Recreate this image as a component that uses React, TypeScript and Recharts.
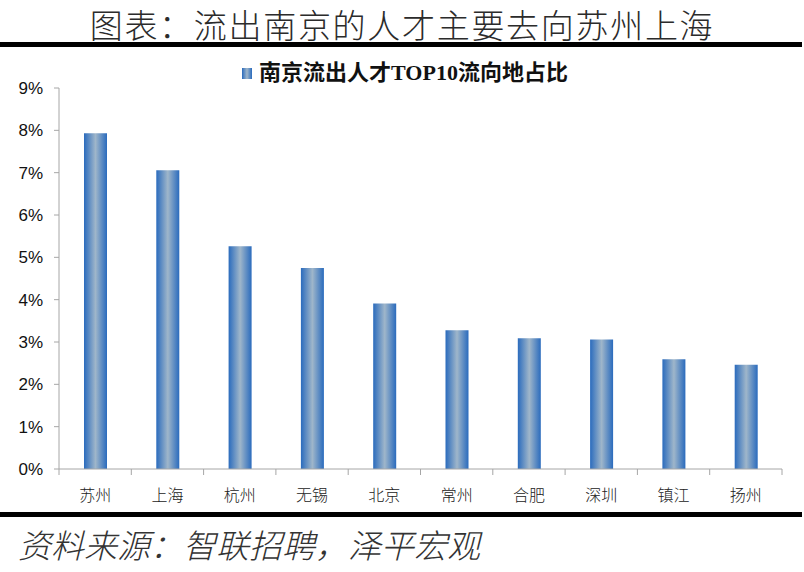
import React from "react";
import { BarChart, Bar, XAxis, YAxis } from "recharts";

const cities = ["苏州", "上海", "杭州", "无锡", "北京", "常州", "合肥", "深圳", "镇江", "扬州"];
const shares = [7.93, 7.06, 5.26, 4.75, 3.91, 3.28, 3.09, 3.06, 2.59, 2.46];
const yTicks = [0, 1, 2, 3, 4, 5, 6, 7, 8, 9];

const chartTitle = "图表：流出南京的人才主要去向苏州上海";
const legendLabel = "南京流出人才TOP10流向地占比";
const sourceNote = "资料来源：智联招聘，泽平宏观";

const data = cities.map((city, i) => ({ city, share: shares[i] }));

const cjk = "'Noto Sans CJK SC', sans-serif";
const axisGrey = "#a6a6a6";

// category label plus Excel-style tick marks on the band edges
const CityTick = (props: any) => {
  const { x, y, payload, index, width, visibleTicksCount } = props;
  const band = width / visibleTicksCount;
  const left = x - band / 2;
  return (
    <g>
      <line x1={left} x2={left} y1={y} y2={y + 6} stroke={axisGrey} />
      {index === visibleTicksCount - 1 && (
        <line x1={x + band / 2} x2={x + band / 2} y1={y} y2={y + 6} stroke={axisGrey} />
      )}
      <text
        x={x}
        y={y + 32}
        textAnchor="middle"
        fill="#222"
        fontSize={16}
        fontFamily={cjk}
        fontWeight={300}
      >
        {payload.value}
      </text>
    </g>
  );
};

export default function App() {
  return (
    <div
      style={{
        position: "absolute",
        left: 0,
        top: 0,
        width: 804,
        height: 572,
        background: "#ffffff",
        overflow: "hidden",
      }}
    >
      <div
        style={{
          position: "absolute",
          top: 6,
          left: 40,
          width: 724,
          textAlign: "center",
          fontFamily: cjk,
          fontWeight: 300,
          fontSize: 33,
          letterSpacing: 1.7,
          lineHeight: "36px",
          color: "#2b2b2b",
        }}
      >
        {chartTitle}
      </div>
      <div style={{ position: "absolute", top: 42, left: 0, width: 802, height: 5, background: "#000" }} />

      <BarChart
        width={804}
        height={572}
        data={data}
        margin={{ top: 88, right: 22, left: 9, bottom: 73 }}
        barSize={23}
      >
        <defs>
          <linearGradient id="barFill" x1="0" y1="0" x2="1" y2="0">
            <stop offset="0%" stopColor="#2a6bbd" />
            <stop offset="50%" stopColor="#9fb6ca" />
            <stop offset="100%" stopColor="#2a6bbd" />
          </linearGradient>
        </defs>
        <XAxis
          dataKey="city"
          height={30}
          stroke={axisGrey}
          tickLine={false}
          tickSize={0}
          tickMargin={0}
          interval={0}
          tick={<CityTick />}
        />
        <YAxis
          width={50}
          domain={[0, 9]}
          ticks={yTicks}
          interval={0}
          tickFormatter={(v) => `${v}%`}
          tickSize={5}
          tickMargin={11}
          stroke={axisGrey}
          tick={{ fill: "#111", fontSize: 17, fontFamily: "'Liberation Sans', sans-serif" }}
        />
        <Bar dataKey="share" fill="url(#barFill)" isAnimationActive={false} />
      </BarChart>

      <div
        style={{
          position: "absolute",
          top: 60,
          left: 0,
          width: 804,
          display: "flex",
          justifyContent: "center",
          alignItems: "center",
          paddingLeft: 6,
          boxSizing: "border-box",
        }}
      >
        <div
          style={{
            width: 10,
            height: 11,
            background: "linear-gradient(to right, #2a6bbd, #9fb6ca, #2a6bbd)",
            marginRight: 7,
          }}
        />
        <span
          style={{
            fontFamily: "'Liberation Serif', 'Noto Sans CJK SC', serif",
            fontWeight: 700,
            fontSize: 22,
            lineHeight: "26px",
            color: "#111",
          }}
        >
          {legendLabel}
        </span>
      </div>

      <div style={{ position: "absolute", top: 512, left: 0, width: 802, height: 5, background: "#000" }} />
      <div
        style={{
          position: "absolute",
          top: 523,
          left: 18,
          fontFamily: cjk,
          fontWeight: 300,
          fontStyle: "italic",
          fontSize: 33,
          lineHeight: "42px",
          color: "#333",
        }}
      >
        {sourceNote}
      </div>
    </div>
  );
}
